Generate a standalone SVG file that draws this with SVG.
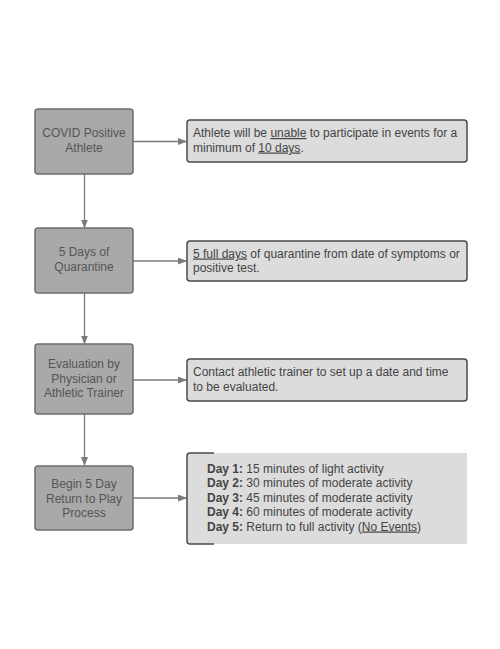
<svg xmlns="http://www.w3.org/2000/svg" width="500" height="649" viewBox="0 0 500 649">
<defs>
<style>
.step{fill:#a9a9a9;stroke:#6e6e6e;stroke-width:1.5}
.info{fill:#dcdcdc;stroke:#4a4a4a;stroke-width:1.5}
.st{font-family:"Liberation Sans",Arial,sans-serif;font-size:12px;fill:#555;text-anchor:middle}
.it{font-family:"Liberation Sans",Arial,sans-serif;font-size:12px;fill:#444}
.conn{stroke:#7a7a7a;stroke-width:1.3;fill:none;marker-end:url(#ah)}
.u{text-decoration:underline}
.b{font-weight:bold}
</style>
<marker id="ah" markerWidth="9" markerHeight="7" refX="8" refY="3.5" orient="auto" markerUnits="userSpaceOnUse">
<path d="M0,0 L9,3.5 L0,7 Z" fill="#7a7a7a"/>
</marker>
</defs>
<rect width="500" height="649" fill="#ffffff"/>
<g id="connectors">
<line class="conn" x1="133" y1="141.5" x2="186" y2="141.5"/>
<line class="conn" x1="133" y1="261" x2="186" y2="261"/>
<line class="conn" x1="133" y1="380" x2="186" y2="380"/>
<line class="conn" x1="133" y1="498" x2="186" y2="498"/>
<line class="conn" x1="84.5" y1="174" x2="84.5" y2="227.5"/>
<line class="conn" x1="84.5" y1="293" x2="84.5" y2="343.5"/>
<line class="conn" x1="84.5" y1="414" x2="84.5" y2="465"/>
</g>
<g id="n1">
<rect class="step" x="35" y="109" width="98" height="65" rx="3"/>
<text class="st" x="84" y="137">COVID Positive</text>
<text class="st" x="84" y="151.5">Athlete</text>
</g>
<g id="i1">
<rect class="info" x="187" y="120" width="280" height="42" rx="3"/>
<text class="it" x="193" y="137">Athlete will be <tspan class="u">unable</tspan> to participate in events for a</text>
<text class="it" x="193" y="151.5">minimum of <tspan class="u">10 days</tspan>.</text>
</g>
<g id="n2">
<rect class="step" x="35" y="228" width="98" height="65" rx="3"/>
<text class="st" x="84" y="256">5 Days of</text>
<text class="st" x="84" y="270.5">Quarantine</text>
</g>
<g id="i2">
<rect class="info" x="187" y="241" width="280" height="40" rx="3"/>
<text class="it" x="193" y="257.5"><tspan class="u">5 full days</tspan> of quarantine from date of symptoms or</text>
<text class="it" x="193" y="272">positive test.</text>
</g>
<g id="n3">
<rect class="step" x="35" y="344" width="98" height="70" rx="3"/>
<text class="st" x="84" y="368">Evaluation by</text>
<text class="st" x="84" y="382.5">Physician or</text>
<text class="st" x="84" y="397">Athletic Trainer</text>
</g>
<g id="i3">
<rect class="info" x="187" y="359" width="280" height="42" rx="3"/>
<text class="it" x="193" y="376">Contact athletic trainer to set up a date and time</text>
<text class="it" x="193" y="390.5">to be evaluated.</text>
</g>
<g id="n4">
<rect class="step" x="35" y="466" width="98" height="64" rx="3"/>
<text class="st" x="84" y="488">Begin 5 Day</text>
<text class="st" x="84" y="502.5">Return to Play</text>
<text class="st" x="84" y="517">Process</text>
</g>
<g id="i4">
<rect x="187" y="453" width="280" height="91" fill="#dcdcdc"/>
<path d="M214,453 H190 Q187,453 187,456 V541 Q187,544 190,544 H214" fill="none" stroke="#4a4a4a" stroke-width="1.5"/>
<text class="it" x="207" y="472.5"><tspan class="b">Day 1:</tspan> 15 minutes of light activity</text>
<text class="it" x="207" y="487"><tspan class="b">Day 2:</tspan> 30 minutes of moderate activity</text>
<text class="it" x="207" y="501.5"><tspan class="b">Day 3:</tspan> 45 minutes of moderate activity</text>
<text class="it" x="207" y="516"><tspan class="b">Day 4:</tspan> 60 minutes of moderate activity</text>
<text class="it" x="207" y="530.5"><tspan class="b">Day 5:</tspan> Return to full activity (<tspan class="u">No Events</tspan>)</text>
</g>
</svg>
